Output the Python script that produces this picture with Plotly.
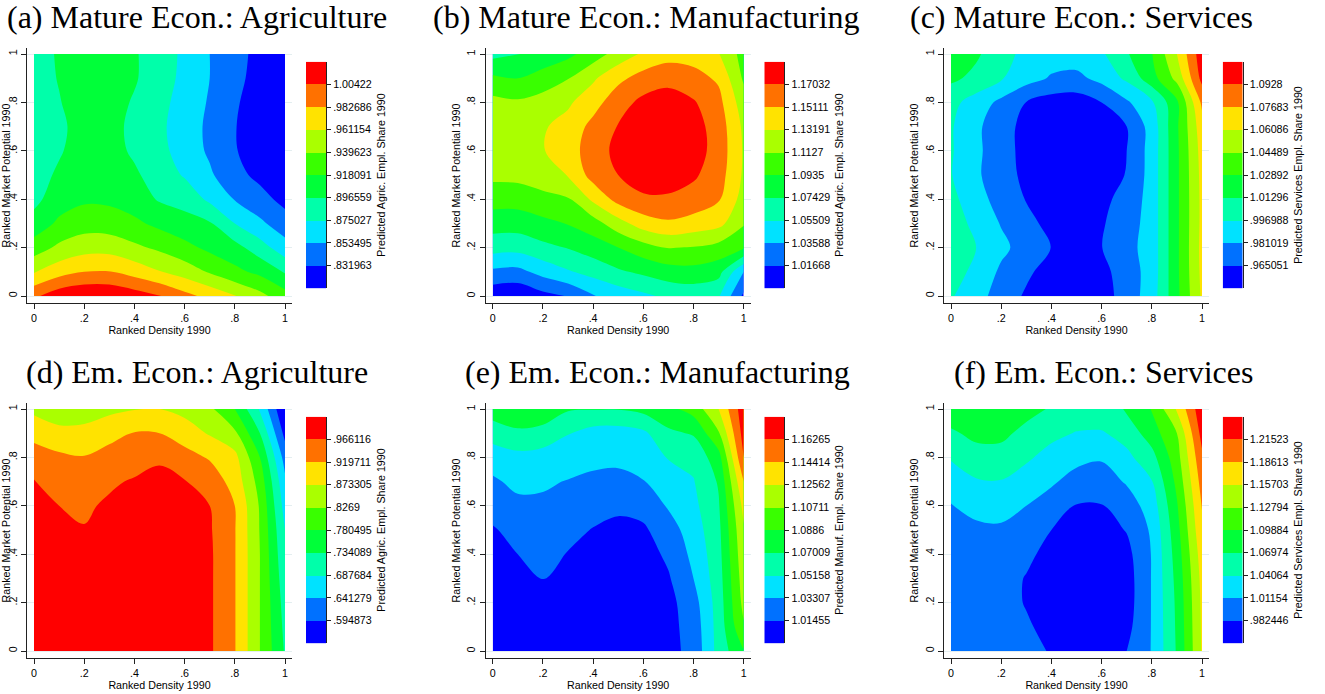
import plotly.graph_objects as go

W, H = 1325, 694

# grid positions (ranked density on x, ranked market potential on y)
grid_x = [0.0, 0.1, 0.2, 0.3, 0.4, 0.5, 0.6, 0.7, 0.8, 0.9, 1.0]
grid_y = [0.0, 0.1, 0.2, 0.3, 0.4, 0.5, 0.6, 0.7, 0.8, 0.9, 1.0]

axis_ticks = [0, 0.2, 0.4, 0.6, 0.8, 1]
axis_tick_text = ["0", ".2", ".4", ".6", ".8", "1"]

titles = ["(a) Mature Econ.: Agriculture", "(b) Mature Econ.: Manufacturing",
          "(c) Mature Econ.: Services", "(d) Em. Econ.: Agriculture",
          "(e) Em. Econ.: Manufacturing", "(f) Em. Econ.: Services"]

cb_titles = ["Predicted Agric. Empl. Share 1990", "Predicted Agric. Empl. Share 1990",
             "Predicted Services Empl. Share 1990", "Predicted Agric. Empl. Share 1990",
             "Predicted Manuf. Empl. Share 1990", "Predicted Services Empl. Share 1990"]

ticks_a = [".831963", ".853495", ".875027", ".896559", ".918091", ".939623", ".961154", ".982686", "1.00422"]
ticks_b = ["1.01668", "1.03588", "1.05509", "1.07429", "1.0935", "1.1127", "1.13191", "1.15111", "1.17032"]
ticks_c = [".965051", ".981019", ".996988", "1.01296", "1.02892", "1.04489", "1.06086", "1.07683", "1.0928"]
ticks_d = [".594873", ".641279", ".687684", ".734089", ".780495", ".8269", ".873305", ".919711", ".966116"]
ticks_e = ["1.01455", "1.03307", "1.05158", "1.07009", "1.0886", "1.10711", "1.12562", "1.14414", "1.16265"]
ticks_f = [".982446", "1.01154", "1.04064", "1.06974", "1.09884", "1.12794", "1.15703", "1.18613", "1.21523"]

# surfaces, in contour-band units (k = k-th colorbar tick), rows y=0..1
level_a = [
    [8.8, 9.6, 9.9, 9.85, 9.5, 9.05, 8.3, 7.7, 7.05, 6.3, 5.4],
    [6.9, 7.6, 8.0, 8.05, 7.6, 7.05, 6.55, 5.9, 5.25, 4.75, 3.9],
    [5.5, 6.2, 6.6, 6.6, 6.2, 5.8, 5.3, 4.75, 4.35, 3.45, 2.4],
    [4.35, 5.2, 5.55, 5.5, 5.2, 4.75, 4.35, 4.1, 3.0, 2.2, 1.45],
    [3.75, 4.5, 4.85, 4.8, 4.5, 3.9, 3.65, 2.8, 1.95, 1.35, 0.7],
    [3.6, 4.15, 4.5, 4.4, 4.15, 3.55, 2.9, 2.15, 1.3, 0.75, 0.35],
    [3.6, 3.9, 4.45, 4.35, 3.85, 3.3, 2.55, 1.85, 1.08, 0.4, 0.2],
    [3.5, 3.75, 4.5, 4.35, 3.75, 3.2, 2.5, 1.8, 1.05, 0.35, 0.1],
    [3.55, 3.95, 4.45, 4.4, 3.9, 3.3, 2.6, 1.9, 1.15, 0.4, 0.15],
    [3.6, 4.05, 4.4, 4.4, 4.1, 3.45, 2.75, 2.0, 1.3, 0.6, 0.2],
    [3.6, 4.1, 4.4, 4.4, 4.1, 3.5, 2.8, 2.0, 1.35, 0.7, 0.3],
]
level_b = [
    [0.3, 0.2, 0.7, 1.05, 1.95, 2.4, 2.8, 3.2, 3.35, 3.1, 0.8],
    [1.8, 1.7, 2.35, 2.9, 3.35, 3.85, 4.2, 4.55, 4.65, 4.35, 2.0],
    [3.4, 3.35, 3.75, 4.05, 4.5, 5.0, 5.6, 6.05, 5.95, 5.65, 5.1],
    [4.45, 4.45, 4.75, 5.05, 5.55, 6.6, 7.5, 7.85, 7.6, 7.3, 6.1],
    [5.4, 5.4, 5.7, 5.9, 7.2, 8.35, 8.85, 8.85, 8.6, 8.1, 6.6],
    [6.25, 6.3, 6.55, 7.05, 8.4, 9.0, 9.45, 9.5, 9.15, 8.45, 6.85],
    [6.45, 6.6, 6.95, 7.5, 8.55, 9.25, 9.8, 9.9, 9.45, 8.6, 6.9],
    [6.5, 6.6, 6.9, 7.35, 8.3, 9.05, 9.7, 9.85, 9.4, 8.55, 6.8],
    [6.3, 6.15, 6.4, 6.85, 7.6, 8.6, 9.25, 9.45, 9.1, 8.3, 6.45],
    [5.2, 5.0, 5.45, 5.95, 6.85, 7.75, 8.4, 8.7, 8.35, 7.85, 5.85],
    [3.7, 3.97, 4.3, 4.75, 5.5, 6.4, 7.15, 7.6, 7.6, 7.05, 5.6],
]
level_c = [
    [3.1, 2.35, 1.6, 0.85, 0.35, 0.25, 0.55, 1.45, 2.5, 4.75, 7.15],
    [3.6, 2.65, 1.85, 1.2, 0.55, 0.4, 0.7, 1.5, 2.4, 4.8, 7.25],
    [3.8, 3.0, 2.2, 1.65, 0.98, 0.7, 0.98, 1.7, 2.4, 4.8, 7.3],
    [3.75, 2.6, 1.95, 1.3, 0.7, 0.5, 0.9, 1.55, 2.4, 4.8, 7.25],
    [3.3, 2.35, 1.65, 0.95, 0.4, 0.3, 0.75, 1.35, 2.4, 4.8, 7.25],
    [3.05, 2.15, 1.45, 0.75, 0.25, 0.2, 0.5, 1.05, 2.4, 4.8, 7.3],
    [3.1, 2.2, 1.45, 0.65, 0.2, 0.15, 0.45, 1.0, 2.4, 4.8, 7.4],
    [3.1, 2.2, 1.4, 0.7, 0.3, 0.3, 0.55, 1.0, 2.4, 4.85, 7.6],
    [3.3, 2.55, 1.75, 0.98, 0.55, 0.5, 1.0, 1.85, 2.85, 4.8, 8.2],
    [4.2, 3.75, 3.1, 2.4, 1.9, 1.75, 2.3, 3.2, 4.6, 6.3, 9.3],
    [4.5, 4.15, 3.4, 2.7, 2.45, 2.5, 2.85, 3.9, 4.95, 7.0, 9.6],
]
level_d = [
    [9.6, 9.7, 9.75, 9.75, 9.8, 9.8, 9.7, 9.15, 8.05, 6.0, 3.9],
    [9.6, 9.7, 9.75, 9.75, 9.8, 9.8, 9.7, 9.15, 8.05, 6.0, 3.75],
    [9.6, 9.7, 9.75, 9.75, 9.8, 9.8, 9.7, 9.15, 8.05, 6.0, 3.6],
    [9.6, 9.7, 9.7, 9.75, 9.8, 9.8, 9.7, 9.15, 8.05, 6.0, 3.4],
    [9.6, 9.55, 9.5, 9.6, 9.7, 9.7, 9.6, 9.15, 8.05, 6.0, 3.2],
    [9.5, 9.25, 9.05, 9.4, 9.55, 9.55, 9.45, 9.1, 8.05, 5.95, 3.0],
    [9.3, 9.0, 8.85, 9.15, 9.3, 9.35, 9.25, 9.0, 8.0, 5.9, 2.6],
    [9.05, 8.6, 8.5, 8.85, 9.1, 9.2, 9.05, 8.6, 7.6, 5.6, 2.2],
    [8.45, 8.2, 8.05, 8.35, 8.55, 8.9, 8.4, 7.9, 7.3, 5.0, 1.6],
    [7.7, 7.3, 7.3, 7.7, 8.05, 8.0, 7.5, 6.9, 6.2, 4.0, 0.7],
    [6.75, 6.4, 6.5, 6.75, 6.95, 7.0, 6.7, 6.2, 5.0, 2.9, 0.0],
]
level_e = [
    [0.4, 0.3, 0.25, 0.2, 0.2, 0.2, 0.2, 0.7, 1.3, 3.36, 4.96],
    [0.4, 0.3, 0.25, 0.2, 0.2, 0.2, 0.2, 0.7, 1.4, 3.4, 5.9],
    [0.4, 0.3, 0.6, 0.3, 0.2, 0.2, 0.2, 0.7, 1.6, 3.45, 6.3],
    [0.4, 0.5, 1.05, 0.55, 0.3, 0.25, 0.3, 0.9, 2.0, 3.55, 6.5],
    [0.45, 1.0, 1.35, 0.95, 0.6, 0.5, 0.55, 1.2, 2.25, 3.65, 6.7],
    [0.9, 1.35, 1.6, 1.3, 0.95, 0.8, 0.85, 1.55, 2.5, 3.75, 6.9],
    [1.4, 1.75, 1.8, 1.6, 1.4, 1.15, 1.35, 2.1, 2.75, 3.9, 7.3],
    [1.85, 2.25, 2.15, 1.95, 1.8, 1.75, 1.95, 2.6, 2.95, 4.1, 8.0],
    [2.45, 2.7, 2.6, 2.5, 2.25, 2.2, 2.5, 3.05, 3.25, 4.6, 9.0],
    [3.45, 3.8, 3.6, 3.05, 2.6, 2.55, 2.8, 3.8, 4.1, 5.9, 9.4],
    [4.5, 4.8, 4.75, 4.1, 4.05, 4.05, 4.3, 4.75, 5.4, 7.0, 9.6],
]
level_f = [
    [1.45, 1.4, 1.35, 1.2, 0.95, 0.55, 0.6, 1.0, 2.05, 4.1, 7.1],
    [1.45, 1.4, 1.3, 1.1, 0.75, 0.4, 0.4, 0.7, 2.05, 4.15, 7.15],
    [1.45, 1.4, 1.3, 0.95, 0.6, 0.3, 0.3, 0.55, 2.05, 4.2, 7.2],
    [1.45, 1.45, 1.35, 0.95, 0.55, 0.3, 0.3, 0.55, 2.05, 4.3, 7.3],
    [1.5, 1.55, 1.5, 1.2, 0.7, 0.4, 0.4, 0.7, 2.05, 4.45, 7.5],
    [1.7, 1.8, 1.85, 1.55, 1.0, 0.6, 0.6, 1.05, 2.15, 4.65, 7.8],
    [1.95, 2.3, 2.35, 2.0, 1.5, 0.95, 0.95, 1.5, 2.45, 4.9, 8.05],
    [2.45, 2.9, 2.95, 2.55, 2.15, 1.6, 1.55, 2.1, 2.95, 5.25, 8.4],
    [3.1, 3.6, 3.6, 3.15, 2.65, 2.3, 2.1, 2.75, 3.65, 5.6, 8.8],
    [3.85, 4.25, 4.25, 3.7, 3.25, 2.95, 2.9, 3.4, 4.5, 6.0, 9.35],
    [4.6, 4.6, 4.55, 4.35, 3.9, 3.6, 3.7, 4.05, 5.05, 7.1, 9.7],
]

band_colors = ["rgb(0,0,255)", "rgb(0,113,255)", "rgb(0,226,255)", "rgb(0,255,170)",
               "rgb(0,255,57)", "rgb(57,255,0)", "rgb(170,255,0)", "rgb(255,227,0)",
               "rgb(255,113,0)", "rgb(255,0,0)"]

panel_levels = [level_a, level_b, level_c, level_d, level_e, level_f]
panel_ticks = [ticks_a, ticks_b, ticks_c, ticks_d, ticks_e, ticks_f]

# ---- layout geometry (pixels) ----
col_x0 = [34, 492.7, 951]       # pixel of x = 0
row_y1 = [54, 409]              # pixel of y = 1
ux, uy = 251, 242
padl, padr, padt, padb = 7, 7, 5.7, 6.7
cb_left = [306, 764.3, 1222.7]
cb_w = 20
cb_top = [61.7, 416.7]
cb_h = 226.6
title_cx = [197, 646, 1081, 197, 657, 1103]
title_cy = [17, 372]

discrete_scale = [[k / 9, c] for k, c in enumerate(band_colors)]

TFONT = dict(family="Liberation Sans, Arial, sans-serif", size=10.7, color="black")

fig = go.Figure()
layout = dict(width=W, height=H, margin=dict(l=0, r=0, t=0, b=0, autoexpand=False),
              paper_bgcolor="white", plot_bgcolor="white", showlegend=False,
              annotations=[])

for i in range(6):
    r, c = divmod(i, 3)
    labels = panel_ticks[i]
    tv = [float(s) for s in labels]
    step = (tv[-1] - tv[0]) / 8
    z = [[tv[0] + (L - 1) * step for L in row] for row in panel_levels[i]]

    n1 = 2 * i + 1
    n2 = 2 * i + 2
    xa, ya = f"x{n1}", f"y{n1}"
    xb, yb = f"x{n2}", f"y{n2}"

    fig.add_trace(go.Contour(
        x=grid_x, y=grid_y, z=z, xaxis=xa, yaxis=ya,
        autocontour=False,
        contours=dict(start=tv[0], end=tv[-1], size=step, coloring="fill", showlines=False),
        line=dict(width=0, smoothing=1.0),
        colorscale=discrete_scale, showscale=False, hoverinfo="skip"))

    # colorbar drawn as a one-column heatmap on its own axes
    centers = [tv[0] + (k - 0.5) * step for k in range(10)]
    fig.add_trace(go.Heatmap(
        x=[0], y=centers, z=[[k] for k in range(10)], xaxis=xb, yaxis=yb,
        zmin=0, zmax=9, colorscale=discrete_scale, showscale=False, hoverinfo="skip"))

    x0 = col_x0[c]
    y1 = row_y1[r]
    layout[f"xaxis{n1}"] = dict(
        domain=[(x0 - padl) / W, (x0 + ux + padr) / W],
        range=[-padl / ux, 1 + padr / ux], anchor=ya, automargin=False,
        showline=True, linecolor="#222", linewidth=1, mirror=False,
        ticks="outside", ticklen=5, tickcolor="#222", tickwidth=1,
        tickvals=axis_ticks, ticktext=axis_tick_text, tickfont=TFONT,
        showgrid=False, zeroline=False,
        title=dict(text="Ranked Density 1990", font=TFONT, standoff=2))
    layout[f"yaxis{n1}"] = dict(
        domain=[1 - (y1 + uy + padb) / H, 1 - (y1 - padt) / H],
        range=[-padb / uy, 1 + padt / uy], anchor=xa, automargin=False,
        showline=True, linecolor="#222", linewidth=1,
        ticks="outside", ticklen=5, tickcolor="#222", tickwidth=1,
        tickvals=axis_ticks, ticktext=axis_tick_text, tickfont=TFONT, tickangle=-90,
        showgrid=True, gridcolor="#e4eef0", gridwidth=1, zeroline=False,
        title=dict(text="Ranked Market Potential 1990", font=TFONT, standoff=2))

    cl = cb_left[c]
    ct = cb_top[r]
    layout[f"xaxis{n2}"] = dict(
        domain=[cl / W, (cl + cb_w) / W], range=[-0.5, 0.5], anchor=yb,
        visible=False, fixedrange=True, automargin=False)
    layout[f"yaxis{n2}"] = dict(
        domain=[1 - (ct + cb_h) / H, 1 - ct / H],
        range=[tv[0] - step, tv[-1] + step], anchor=xb, side="right", automargin=False,
        showline=True, linecolor="#222", linewidth=1,
        ticks="outside", ticklen=4, tickcolor="#222", tickwidth=1,
        tickvals=tv, ticktext=labels, tickfont=TFONT,
        showgrid=False, zeroline=False,
        title=dict(text=cb_titles[i], font=TFONT, standoff=6))

    layout["annotations"].append(dict(
        text=titles[i], xref="paper", yref="paper",
        x=title_cx[i] / W, y=1 - title_cy[r] / H, xanchor="center", yanchor="middle",
        showarrow=False,
        font=dict(family="Liberation Serif, Times New Roman, serif", size=32, color="black")))

fig.update_layout(**layout)
fig.write_html("out.html", config={"displayModeBar": False},
               post_script="document.body.style.margin='0px';document.body.style.overflow='hidden';")
